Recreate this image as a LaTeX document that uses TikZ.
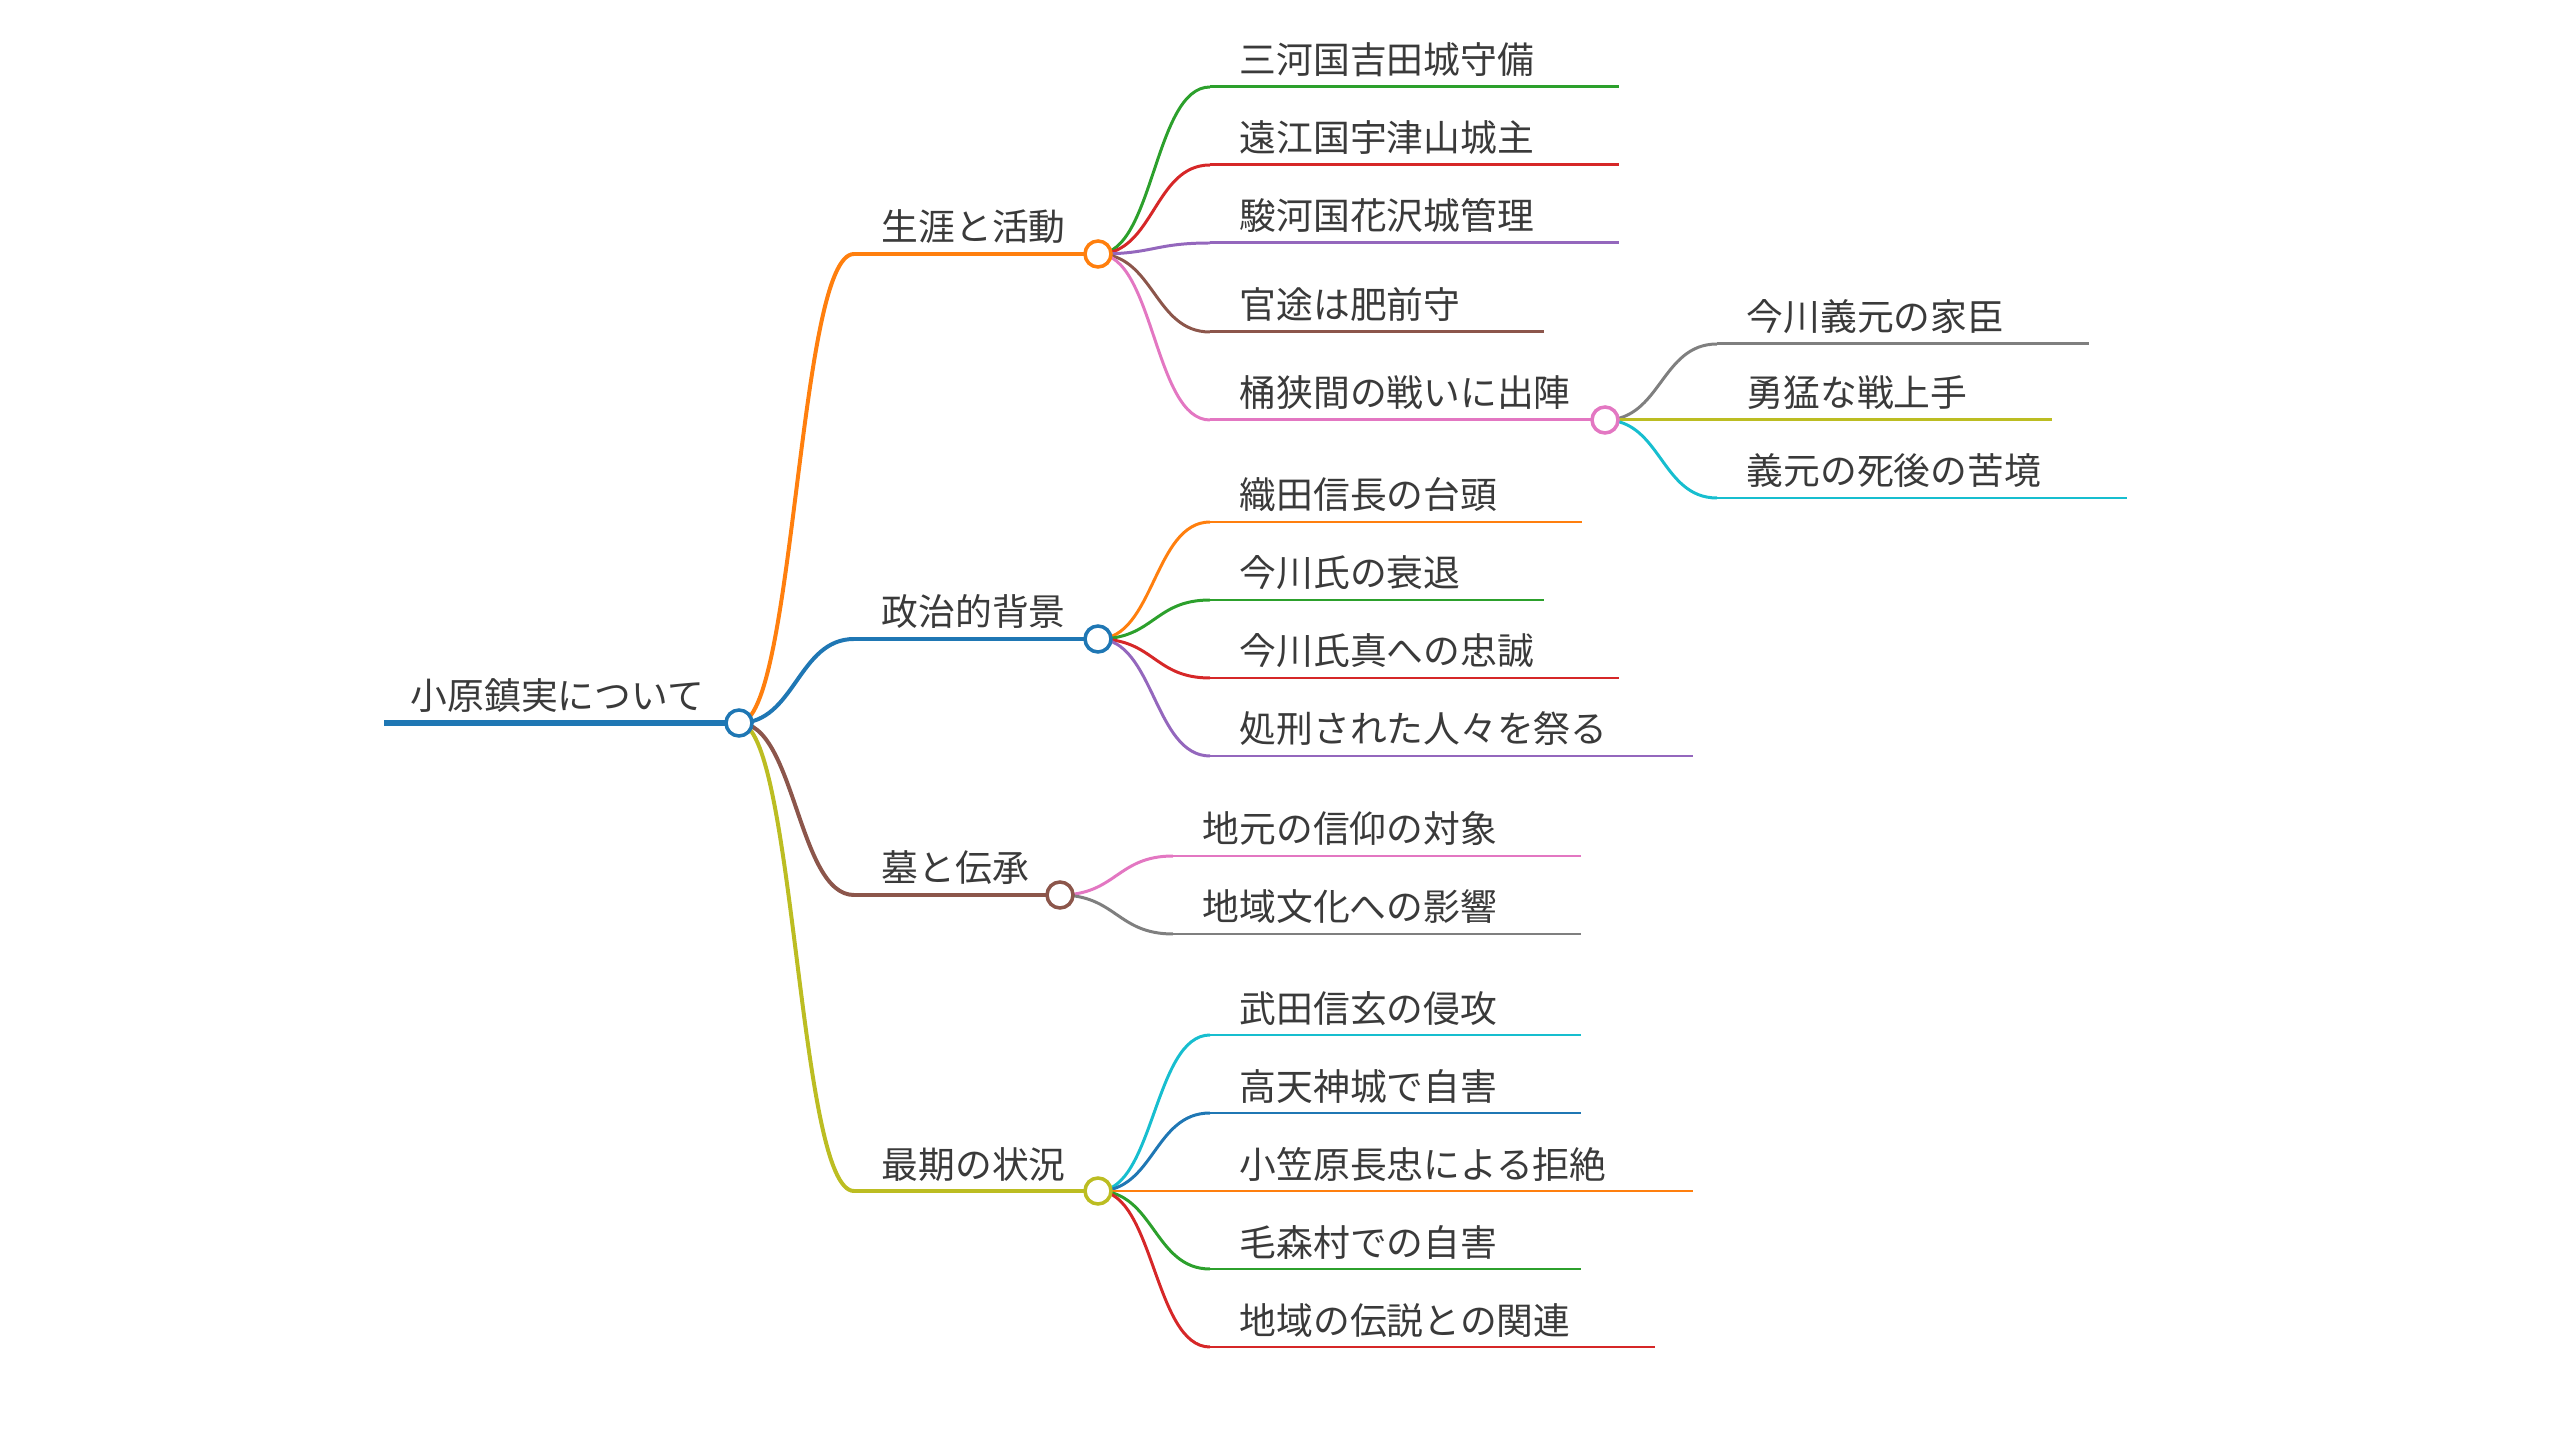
\documentclass[tikz,border=0pt]{standalone}
\usepackage{fontspec}
\setmainfont{Noto Sans CJK JP}
\definecolor{cblue}{HTML}{1F77B4}
\definecolor{corange}{HTML}{FF7F0E}
\definecolor{cgreen}{HTML}{2CA02C}
\definecolor{cred}{HTML}{D62728}
\definecolor{cpurple}{HTML}{9467BD}
\definecolor{cbrown}{HTML}{8C564B}
\definecolor{cpink}{HTML}{E377C2}
\definecolor{cgray}{HTML}{7F7F7F}
\definecolor{colive}{HTML}{BCBD22}
\definecolor{ccyan}{HTML}{17BECF}
\definecolor{ink}{HTML}{3A3A3A}
\newcommand{\branch}[3]{\draw[#3] (#1) .. controls +(56,0) and +(-56,0) .. (#2);}
\begin{document}
\begin{tikzpicture}[x=0.01cm, y=-0.01cm,
  itemtext/.style={anchor=base west, inner sep=0pt, text=ink, font=\fontsize{10.46}{12}\selectfont},
  trunk/.style={line width=1.7pt},
  bough/.style={line width=1.13pt},
  twig/.style={line width=0.85pt},
  knob/.style={fill=white, line width=1pt}]
\useasboundingbox (0,0) rectangle (2560,1431);
\coordinate (root-s) at (384,723);
\coordinate (root) at (739,723);
\draw[cblue, trunk] (root-s) -- (root);
\node[itemtext] (root-t) at (410,710) {小原鎮実について};
\foreach \n/\y/\e/\c/\t in {life/254/1098/corange/生涯と活動, pol/639/1098/cblue/政治的背景,
    grave/895/1060/cbrown/墓と伝承, last/1191/1098/colive/最期の状況} {
  \coordinate (\n-s) at (854,\y);
  \coordinate (\n) at (\e,\y);
  \draw[\c, bough] (\n-s) -- (\n);
  \branch{root}{\n-s}{\c, bough}
  \node[itemtext] (\n-t) at (881,\y-13) {\t};
}
\foreach \n/\y/\e/\c/\t in {life1/87/1619/cgreen/三河国吉田城守備, life2/165/1619/cred/遠江国宇津山城主,
    life3/243/1619/cpurple/駿河国花沢城管理, life4/332/1544/cbrown/官途は肥前守,
    oke/420/1605/cpink/桶狭間の戦いに出陣} {
  \coordinate (\n-s) at (1210,\y);
  \coordinate (\n) at (\e,\y);
  \draw[\c, twig] (\n-s) -- (\n);
  \branch{life}{\n-s}{\c, twig}
  \node[itemtext] (\n-t) at (1239,\y-13) {\t};
}
\foreach \n/\y/\e/\c/\t in {oke1/344/2089/cgray/今川義元の家臣, oke2/420/2052/colive/勇猛な戦上手,
    oke3/498/2127/ccyan/義元の死後の苦境} {
  \coordinate (\n-s) at (1717,\y);
  \coordinate (\n) at (\e,\y);
  \draw[\c, twig] (\n-s) -- (\n);
  \branch{oke}{\n-s}{\c, twig}
  \node[itemtext] (\n-t) at (1746,\y-13) {\t};
}
\foreach \n/\y/\e/\c/\t in {pol1/522/1582/corange/織田信長の台頭, pol2/600/1544/cgreen/今川氏の衰退,
    pol3/678/1619/cred/今川氏真への忠誠, pol4/756/1693/cpurple/処刑された人々を祭る} {
  \coordinate (\n-s) at (1210,\y);
  \coordinate (\n) at (\e,\y);
  \draw[\c, twig] (\n-s) -- (\n);
  \branch{pol}{\n-s}{\c, twig}
  \node[itemtext] (\n-t) at (1239,\y-13) {\t};
}
\foreach \n/\y/\e/\c/\t in {grave1/856/1581/cpink/地元の信仰の対象, grave2/934/1581/cgray/地域文化への影響} {
  \coordinate (\n-s) at (1173,\y);
  \coordinate (\n) at (\e,\y);
  \draw[\c, twig] (\n-s) -- (\n);
  \branch{grave}{\n-s}{\c, twig}
  \node[itemtext] (\n-t) at (1202,\y-13) {\t};
}
\foreach \n/\y/\e/\c/\t in {last1/1035/1581/ccyan/武田信玄の侵攻, last2/1113/1581/cblue/高天神城で自害,
    last3/1191/1693/corange/小笠原長忠による拒絶, last4/1269/1581/cgreen/毛森村での自害,
    last5/1347/1655/cred/地域の伝説との関連} {
  \coordinate (\n-s) at (1210,\y);
  \coordinate (\n) at (\e,\y);
  \draw[\c, twig] (\n-s) -- (\n);
  \branch{last}{\n-s}{\c, twig}
  \node[itemtext] (\n-t) at (1239,\y-13) {\t};
}
\foreach \n/\c in {root/cblue, life/corange, pol/cblue, grave/cbrown, last/colive, oke/cpink}
  \draw[\c, knob] (\n) circle [radius=13];
\end{tikzpicture}
\end{document}
